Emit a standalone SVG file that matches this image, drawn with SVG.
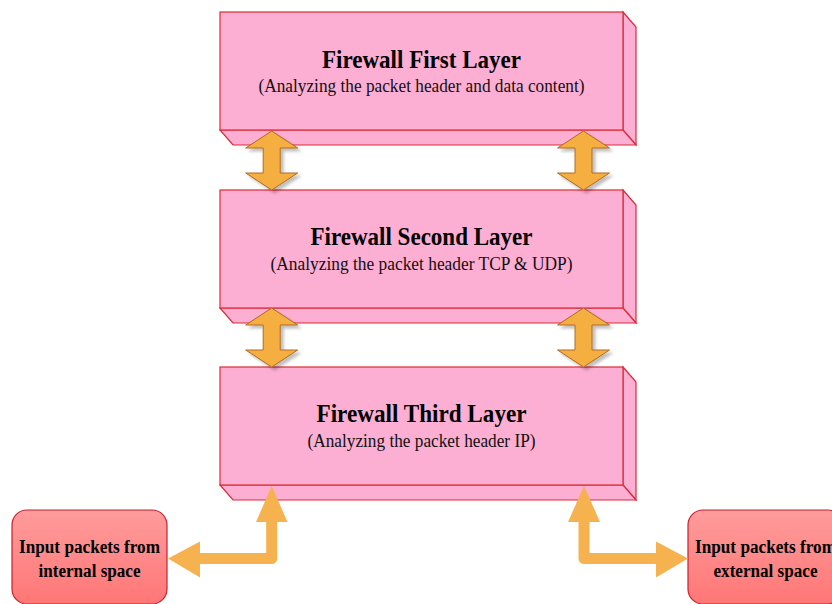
<svg xmlns="http://www.w3.org/2000/svg" width="832" height="604" viewBox="0 0 832 604">
  <defs>
    <style>
      .face { fill: #FCAED3; stroke: #DC2A36; stroke-width: 1.2; stroke-linejoin: miter; }
      .title { font-family: "Liberation Serif", "Times New Roman", serif; font-weight: bold; font-size: 25px; fill: #000; text-anchor: middle; }
      .sub { font-family: "Liberation Serif", "Times New Roman", serif; font-size: 18px; fill: #111; text-anchor: middle; }
      .inp { font-family: "Liberation Serif", "Times New Roman", serif; font-weight: bold; font-size: 18px; fill: #000; text-anchor: middle; }
      .dbl { fill: #F5AE40; stroke: #B06A22; stroke-width: 1; filter: url(#shadow); }
      .elbow { fill: none; stroke: #F5B24F; stroke-width: 11; stroke-linejoin: round; }
      .head { fill: #F5B24F; }
      .inbox { fill: url(#redgrad); stroke: #C8202E; stroke-width: 1.2; }
    </style>
    <linearGradient id="redgrad" x1="0" y1="0" x2="0" y2="1">
      <stop offset="0" stop-color="#FF9C9C"/>
      <stop offset="1" stop-color="#FF7676"/>
    </linearGradient>
    <filter id="shadow" x="-30%" y="-30%" width="160%" height="160%">
      <feDropShadow dx="3" dy="3" stdDeviation="1.5" flood-color="#000" flood-opacity="0.25"/>
    </filter>
    <path id="dblarrow" d="M0,0 L26,17 L8.5,17 L8.5,42 L26,42 L0,59 L-26,42 L-8.5,42 L-8.5,17 L-26,17 Z"/>
  </defs>

  <g id="layer1" transform="translate(0,12)">
    <polygon class="face" points="623,0 636,15 636,133 623,118"/>
    <polygon class="face" points="220,118 623,118 636,133 233,133"/>
    <rect class="face" x="220" y="0" width="403" height="118"/>
    <text class="title" x="421.5" y="56" textLength="199" lengthAdjust="spacingAndGlyphs">Firewall First Layer</text>
    <text class="sub" x="421.5" y="80" textLength="326" lengthAdjust="spacingAndGlyphs">(Analyzing the packet header and data content)</text>
  </g>

  <g id="layer2" transform="translate(0,190)">
    <polygon class="face" points="623,0 636,15 636,133 623,118"/>
    <polygon class="face" points="220,118 623,118 636,133 233,133"/>
    <rect class="face" x="220" y="0" width="403" height="118"/>
    <text class="title" x="421.5" y="55" textLength="222" lengthAdjust="spacingAndGlyphs">Firewall Second Layer</text>
    <text class="sub" x="421.5" y="80" textLength="302" lengthAdjust="spacingAndGlyphs">(Analyzing the packet header TCP &amp; UDP)</text>
  </g>

  <g id="layer3" transform="translate(0,367)">
    <polygon class="face" points="623,0 636,15 636,133 623,118"/>
    <polygon class="face" points="220,118 623,118 636,133 233,133"/>
    <rect class="face" x="220" y="0" width="403" height="118"/>
    <text class="title" x="421.5" y="55" textLength="210" lengthAdjust="spacingAndGlyphs">Firewall Third Layer</text>
    <text class="sub" x="421.5" y="80" textLength="228" lengthAdjust="spacingAndGlyphs">(Analyzing the packet header IP)</text>
  </g>

  <g id="internal">
    <rect class="inbox" x="12" y="510" width="155" height="94" rx="15" ry="15"/>
    <text class="inp" x="89.5" y="553" textLength="141" lengthAdjust="spacingAndGlyphs">Input packets from</text>
    <text class="inp" x="89.5" y="577" textLength="102" lengthAdjust="spacingAndGlyphs">internal space</text>
  </g>

  <g id="external">
    <rect class="inbox" x="688" y="510" width="155" height="94" rx="15" ry="15"/>
    <text class="inp" x="765.5" y="553" textLength="141" lengthAdjust="spacingAndGlyphs">Input packets from</text>
    <text class="inp" x="765.5" y="577" textLength="104" lengthAdjust="spacingAndGlyphs">external space</text>
  </g>

  <g id="connectors">
    <use href="#dblarrow" class="dbl" x="271.7" y="131"/>
    <use href="#dblarrow" class="dbl" x="583.5" y="131"/>
    <use href="#dblarrow" class="dbl" x="271.7" y="308"/>
    <use href="#dblarrow" class="dbl" x="583.5" y="308"/>

    <path class="elbow" d="M271.7,520 L271.7,558.5 L198,558.5"/>
    <polygon class="head" points="271.7,486 287.5,522 256,522"/>
    <polygon class="head" points="168,558.5 200,541.5 200,577.5"/>

    <path class="elbow" d="M584,520 L584,558.5 L658,558.5"/>
    <polygon class="head" points="584,486 600,522 568,522"/>
    <polygon class="head" points="688,558.5 656,541.5 656,577.5"/>
  </g>
</svg>
